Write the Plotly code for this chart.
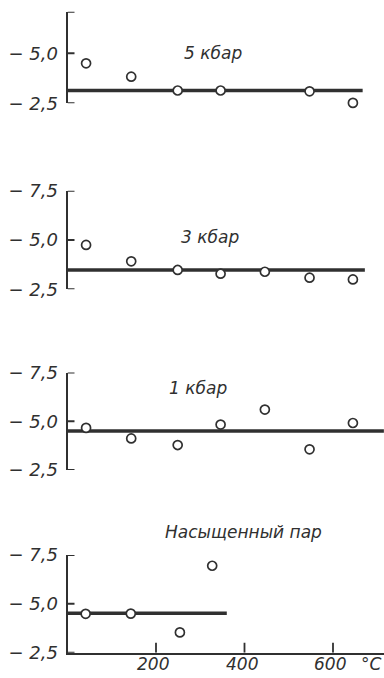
import plotly.graph_objects as go

# Temperatures (°C) of the measurements
temps = [42, 144, 249, 346, 446, 547, 645]
temps_vapor = [41, 143, 254, 327]

# Measured values per pressure
vals_5kbar = [-4.5, -3.83, -3.14, -3.14, -2.19, -3.1, -2.52]
vals_3kbar = [-4.75, -3.92, -3.48, -3.29, -3.39, -3.09, -3.0]
vals_1kbar = [-4.66, -4.12, -3.78, -4.83, -5.6, -3.56, -4.91]
vals_vapor = [-4.49, -4.5, -3.54, -6.95]

# Horizontal mean lines: level and temperature span
fit_levels = [-3.14, -3.48, -4.5, -4.52]
fit_spans = [[0, 667], [0, 672], [0, 715], [0, 360]]

panel_names = ["5 кбар", "3 кбар", "1 кбар", "Насыщенный пар"]

ytick_vals = [[-7.08, -5.0, -2.5], [-7.5, -5.0, -2.5], [-7.5, -5.0, -2.5], [-7.5, -5.0, -2.5]]
ytick_text = [["", "− 5,0", "− 2,5"], ["− 7,5", "− 5,0", "− 2,5"],
              ["− 7,5", "− 5,0", "− 2,5"], ["− 7,5", "− 5,0", "− 2,5"]]
y_ranges = [[-2.5, -7.08], [-2.5, -7.5], [-2.5, -7.5], [-2.5, -7.5]]

xtick_vals = [200, 400, 600]
xtick_text = ["200", "400", "600"]
x_unit = "°C"

INK = "#303030"
FONT = "DejaVu Sans"
W, H = 384, 678

# Panel vertical extents in pixels (top, bottom)
panel_px = [(11.7, 103.3), (190.7, 289.3), (372.5, 470.0), (555.0, 652.7)]
x_left = 67.5
x_scale = 0.4425  # px per °C
x_max = (W - x_left) / x_scale
YTICK_LEN_PX = 7
XTICK_LEN_PX = 10

series = [(temps, vals_5kbar), (temps, vals_3kbar), (temps, vals_1kbar), (temps_vapor, vals_vapor)]

fig = go.Figure()
layout = dict(
    width=W, height=H, margin=dict(l=0, r=0, t=0, b=0, autoexpand=False),
    paper_bgcolor="white", plot_bgcolor="rgba(0,0,0,0)", showlegend=False,
    font=dict(family=FONT, color=INK),
)
shapes = []

for i, ((xs, ys), lvl, span) in enumerate(zip(series, fit_levels, fit_spans)):
    n = i + 1
    xa = "x" if n == 1 else f"x{n}"
    ya = "y" if n == 1 else f"y{n}"
    fig.add_trace(go.Scatter(x=span, y=[lvl, lvl], mode="lines",
                             line=dict(color=INK, width=3.5),
                             xaxis=xa, yaxis=ya, hoverinfo="skip"))
    fig.add_trace(go.Scatter(x=xs, y=ys, mode="markers", cliponaxis=False,
                             marker=dict(size=9, color="white",
                                         line=dict(color=INK, width=1.7)),
                             xaxis=xa, yaxis=ya))
    top, bot = panel_px[i]
    is_last = n == 4
    layout[f"xaxis{'' if n == 1 else n}"] = dict(
        domain=[x_left / W, 1], range=[0, x_max], anchor=ya, automargin=False,
        showgrid=False, zeroline=False, visible=is_last,
        showline=is_last, linecolor=INK, linewidth=2.2,
        showticklabels=False, ticks="",
    )
    layout[f"yaxis{'' if n == 1 else n}"] = dict(
        domain=[1 - bot / H, 1 - top / H], range=y_ranges[i], anchor=xa, automargin=False,
        showgrid=False, zeroline=False, showline=True, linecolor=INK, linewidth=2,
        ticks="", tickvals=ytick_vals[i], ticktext=ytick_text[i],
        tickfont=dict(family=FONT, size=18, color=INK, style="italic"),
        ticklabelstandoff=4,
    )
    # inward tick stubs on the value axis
    for tv in ytick_vals[i]:
        shapes.append(dict(type="line", xref=xa, yref=ya,
                           x0=0, x1=YTICK_LEN_PX / x_scale, y0=tv, y1=tv,
                           line=dict(color=INK, width=2)))

# inward tick stubs and labels on the temperature axis
y_px_per_unit = (panel_px[3][1] - panel_px[3][0]) / 5.0
for tv, tt in zip(xtick_vals, xtick_text):
    shapes.append(dict(type="line", xref="x4", yref="y4",
                       x0=tv, x1=tv, y0=-2.5, y1=-2.5 - XTICK_LEN_PX / y_px_per_unit,
                       line=dict(color=INK, width=1.8)))
    fig.add_annotation(x=tv, xref="x4", y=1 - 664 / H, yref="paper",
                       xanchor="center", yanchor="middle", xshift=-3,
                       text=tt, showarrow=False,
                       font=dict(family=FONT, size=17, color=INK, style="italic"))

fig.add_annotation(x=371 / W, y=1 - 664 / H, xref="paper", yref="paper",
                   xanchor="center", yanchor="middle",
                   text=x_unit, showarrow=False,
                   font=dict(family=FONT, size=17, color=INK, style="italic"))

# Panel captions
caption_pos = [(213, 53), (210, 237), (198, 388), (243, 532)]
for name, (px, py) in zip(panel_names, caption_pos):
    fig.add_annotation(x=px / W, y=1 - py / H, xref="paper", yref="paper",
                       xanchor="center", yanchor="middle",
                       text=name, showarrow=False,
                       font=dict(family=FONT, size=17, color=INK, style="italic"))

layout["shapes"] = shapes
fig.update_layout(**layout)
fig.write_html("out.html")
